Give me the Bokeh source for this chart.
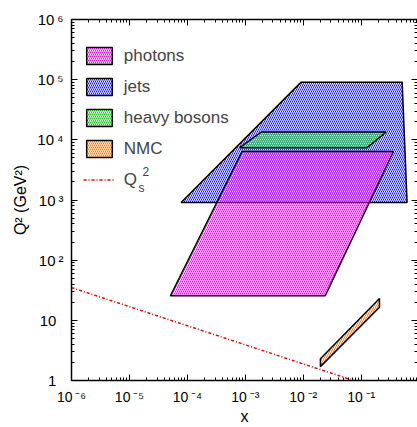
import json
import numpy as np
from bokeh.plotting import figure
from bokeh.models import Range1d, LogAxis, FixedTicker, Label, Legend, LegendItem, CustomJSTickFormatter
from bokeh.embed import file_html
from bokeh.resources import INLINE

# ---- data ----
photons_x = [5.1e-5, 0.024, 0.36, 8.8e-4]
photons_q2 = [25.6, 25.6, 6.4e3, 6.4e3]
jets_x = [7.8e-5, 0.62, 0.51, 9.2e-3]
jets_q2 = [910, 910, 9.1e4, 9.1e4]
bosons_x = [8.0e-4, 0.127, 0.27, 1.9e-3]
bosons_q2 = [7.4e3, 7.4e3, 1.35e4, 1.35e4]
nmc_x = [0.0198, 0.207, 0.207, 0.0198]
nmc_q2 = [1.7, 16.5, 23.1, 2.3]
qs_x = [1e-6, 0.074]
qs_q2 = [35, 1]

x_ticks = [1e-6, 1e-5, 1e-4, 1e-3, 1e-2, 1e-1]
x_tick_labels = ["10\u2009\u207b\u2076", "10\u2009\u207b\u2075", "10\u2009\u207b\u2074",
                 "10\u2009\u207b\u00b3", "10\u2009\u207b\u00b2", "10\u2009\u207b\u00b9"]
y_ticks = [1, 10, 1e2, 1e3, 1e4, 1e5, 1e6]
y_tick_labels = ["1\u2009\u2008", "10\u2009\u2008", "10\u2009\u00b2", "10\u2009\u00b3",
                 "10\u2009\u2074", "10\u2009\u2075", "10\u2009\u2076"]

X_START, X_END = 1e-6, 0.938
Y_START, Y_END = 1, 1e6
FONT = "Liberation Sans"

p = figure(width=417, height=427, x_axis_type="log", y_axis_type="log",
           x_range=Range1d(X_START, X_END), y_range=Range1d(Y_START, Y_END),
           output_backend="svg", toolbar_location=None,
           min_border_left=71, min_border_right=0, min_border_top=19, min_border_bottom=43)
p.grid.visible = False
p.outline_line_color = None
p.background_fill_color = "white"

p.add_layout(LogAxis(), "above")
p.add_layout(LogAxis(), "right")

def minors(lo, hi):
    out = []
    for k in range(lo, hi):
        for m in range(2, 10):
            out.append(m * 10.0 ** k)
    return out

def fmt(ticks, labels):
    d = {str(int(round(np.log10(t)))): l for t, l in zip(ticks, labels)}
    return CustomJSTickFormatter(code="const L = %s; const k = String(Math.round(Math.log10(tick))); return (k in L) ? L[k] : '';" % json.dumps(d))

blank = CustomJSTickFormatter(code="return '';")
for ax in p.xaxis:
    ax.ticker = FixedTicker(ticks=x_ticks, minor_ticks=minors(-6, 0))
for ax in p.yaxis:
    ax.ticker = FixedTicker(ticks=y_ticks, minor_ticks=minors(0, 6))
for ax in p.xaxis + p.yaxis:
    ax.formatter = blank
    ax.major_tick_in = 6
    ax.major_tick_out = 0
    ax.minor_tick_in = 3
    ax.minor_tick_out = 0
    ax.axis_line_width = 1.5
    ax.axis_line_color = "black"
    ax.major_tick_line_color = "black"
    ax.minor_tick_line_color = "black"
    ax.major_label_standoff = 0
    ax.major_label_text_font = FONT
    ax.major_label_text_font_size = "15px"
    ax.major_label_text_color = "black"
    ax.axis_label_text_font = FONT
    ax.axis_label_text_font_style = "normal"
    ax.axis_label_text_color = "black"

xa = p.below[0]
xa.formatter = fmt(x_ticks, x_tick_labels)
xa.major_label_text_font_size = "14px"
xa.major_label_standoff = 8
xa.axis_label = "x"
xa.axis_label_text_font_size = "16px"
xa.axis_label_standoff = 0

ya = p.left[0]
ya.formatter = fmt(y_ticks, y_tick_labels)
ya.major_label_standoff = 8
ya.axis_label = "Q\u00b2 (GeV\u00b2)"
ya.axis_label_text_font_size = "16px"
ya.axis_label_standoff = 5

p.right[0].axis_line_color = None

hatch = dict(fill_color=None, hatch_pattern="left_diagonal_line", hatch_scale=4,
             hatch_weight=1.0, line_color="black", line_width=1.5)
r_jets = p.patch(jets_x, jets_q2, hatch_color="#1a1aff", **hatch)
r_ph = p.patch(photons_x, photons_q2, hatch_color="#ff00ff", **hatch)
r_hb = p.patch(bosons_x, bosons_q2, hatch_color="#00dd00", **hatch)
r_nmc = p.patch(nmc_x, nmc_q2, hatch_color="#ff8010", **hatch)
r_qs = p.line(qs_x, qs_q2, line_color="#e00000", line_width=1.5, line_dash="3 2 1 2")

legend = Legend(items=[
    LegendItem(label="photons", renderers=[r_ph]),
    LegendItem(label="jets", renderers=[r_jets]),
    LegendItem(label="heavy bosons", renderers=[r_hb]),
    LegendItem(label="NMC", renderers=[r_nmc]),
    LegendItem(label="Q", renderers=[r_qs]),
], location=(11.8, 190), margin=0, padding=5, label_height=21, spacing=10,
   glyph_width=32, glyph_height=21, label_standoff=9,
   label_text_font=FONT, label_text_font_size="17px",
   border_line_color=None, background_fill_alpha=0)
p.add_layout(legend)

# Q_s^2 sub/superscripts
p.add_layout(Label(x=X_START, y=Y_END, x_offset=67, y_offset=-168.5, text="s",
                   text_align="left", text_baseline="middle", text_font=FONT, text_font_size="12px"))
p.add_layout(Label(x=X_START, y=Y_END, x_offset=71, y_offset=-152, text="2",
                   text_align="left", text_baseline="middle", text_font=FONT, text_font_size="12px"))

open("out.html", "w").write(file_html(p, INLINE))
